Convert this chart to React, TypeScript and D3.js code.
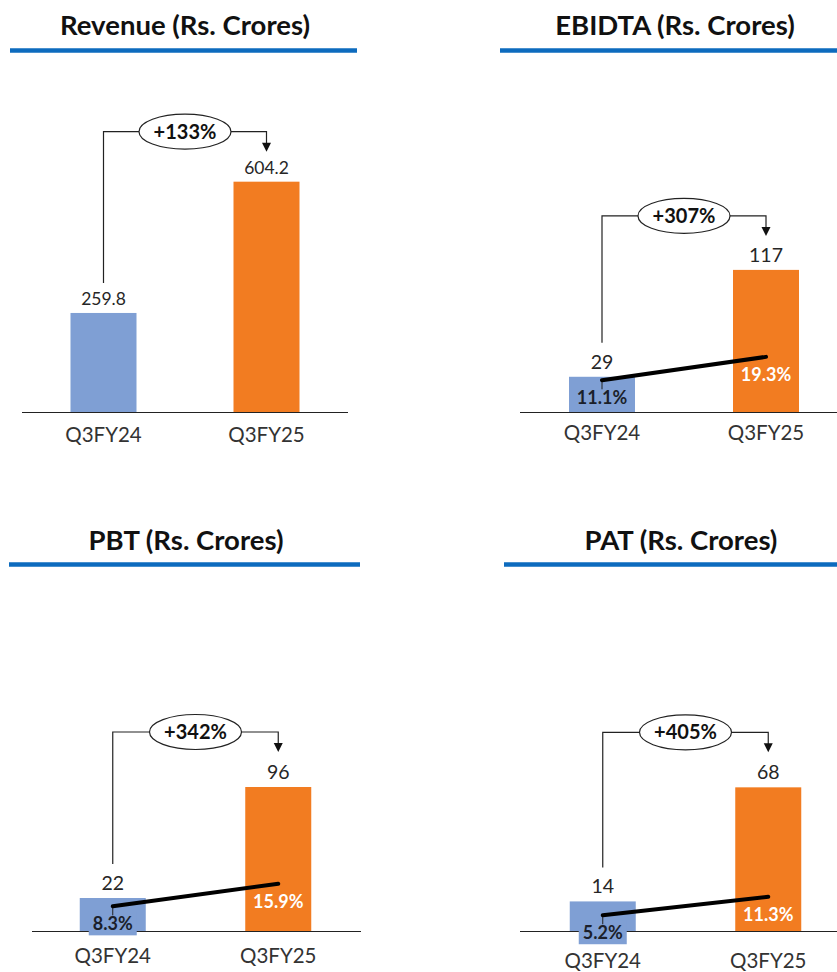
import React from "react";
import * as d3 from "d3";

// ---------- data ----------
const categories = ["Q3FY24", "Q3FY25"];
const panelTitles = ["Revenue (Rs. Crores)", "EBIDTA (Rs. Crores)", "PBT (Rs. Crores)", "PAT (Rs. Crores)"];
const revenueValues = [259.8, 604.2];
const ebidtaValues = [29, 117];
const pbtValues = [22, 96];
const patValues = [14, 68];
const ebidtaMargins = [11.1, 19.3];
const pbtMargins = [8.3, 15.9];
const patMargins = [5.2, 11.3];
const growthLabels = ["+133%", "+307%", "+342%", "+405%"];
const valueFormats = [".1f", "d", "d", "d"];

// ---------- styles / layout ----------
const BAR_COLORS = ["#7F9FD4", "#F27C21"];
const RULE_COLOR = "#0D6BBE";
const FONT = "Lato, 'Open Sans', sans-serif";
const PLOT_H = 300;
const BAR_W = 66;

type Layout = {
  titleX: number; titleY: number; rule: [number, number]; ruleY: number;
  xRange: [number, number]; axis: [number, number]; baseline: number;
  yMax: number; mMax: number; catY: number; valSize: number;
  connTop: number; connBottom: number;
};

const layouts: Layout[] = [
  { titleX: 185, titleY: 35, rule: [10, 357], ruleY: 50.5, xRange: [22, 348], axis: [22, 348], baseline: 412, yMax: 787, mMax: 100, catY: 442, valSize: 17.5, connTop: 50, connBottom: 30 },
  { titleX: 675, titleY: 35, rule: [500, 840], ruleY: 50.5, xRange: [520, 848], axis: [520, 840], baseline: 412, yMax: 247, mMax: 105, catY: 440, valSize: 19.5, connTop: 54, connBottom: 34 },
  { titleX: 186, titleY: 550, rule: [9, 360], ruleY: 564.5, xRange: [30, 361], axis: [32, 361], baseline: 931, yMax: 200, mMax: 101, catY: 963, valSize: 19.5, connTop: 55, connBottom: 34 },
  { titleX: 681, titleY: 550, rule: [504, 840], ruleY: 564.5, xRange: [520, 851], axis: [520, 840], baseline: 931, yMax: 142, mMax: 99, catY: 968, valSize: 19.5, connTop: 55, connBottom: 34 },
];

const seriesValues = [revenueValues, ebidtaValues, pbtValues, patValues];
const seriesMargins: (number[] | null)[] = [null, ebidtaMargins, pbtMargins, patMargins];

function Panel({ idx }: { idx: number }) {
  const L = layouts[idx];
  const values = seriesValues[idx];
  const margins = seriesMargins[idx];
  const x = d3.scalePoint<string>().domain(categories).range(L.xRange).padding(0.5);
  const y = d3.scaleLinear().domain([0, L.yMax]).range([L.baseline, L.baseline - PLOT_H]);
  const ym = d3.scaleLinear().domain([0, L.mMax]).range([L.baseline, L.baseline - PLOT_H]);
  const fmt = d3.format(valueFormats[idx]);

  const x0 = x(categories[0])!;
  const x1 = x(categories[1])!;
  const connY = y(values[1]) - L.connTop;
  const leftBottom = y(values[0]) - L.connBottom;
  const tipY = connY + 20;
  const midX = (x0 + x1) / 2;
  const rx = 46;
  const ry = 17.5;

  const marginLine = margins
    ? d3.line<number>().x((_, i) => x(categories[i])!).y((d) => ym(d))(margins)
    : null;

  return (
    <g>
      <text x={L.titleX} y={L.titleY} textAnchor="middle" fontFamily={FONT} fontWeight={700} fontSize={27.5} fill="#111">
        {panelTitles[idx]}
      </text>
      <line x1={L.rule[0]} x2={L.rule[1]} y1={L.ruleY} y2={L.ruleY} stroke={RULE_COLOR} strokeWidth={4.5} />

      {values.map((v, i) => (
        <rect key={i} x={x(categories[i])! - BAR_W / 2} y={y(v)} width={BAR_W} height={L.baseline - y(v)} fill={BAR_COLORS[i]} />
      ))}
      <line x1={L.axis[0]} x2={L.axis[1]} y1={L.baseline + 0.5} y2={L.baseline + 0.5} stroke="#222" strokeWidth={1.2} />

      {values.map((v, i) => (
        <text key={i} x={x(categories[i])!} y={y(v) - 8} textAnchor="middle" fontFamily={FONT} fontSize={L.valSize} fill="#262626">
          {fmt(v)}
        </text>
      ))}

      {categories.map((c) => (
        <text key={c} x={x(c)!} y={L.catY} textAnchor="middle" fontFamily={FONT} fontSize={20.5} fill="#333">
          {c}
        </text>
      ))}

      {/* growth connector */}
      <path
        d={`M${x0},${leftBottom}V${connY}H${midX - rx}M${midX + rx},${connY}H${x1}V${tipY - 8}`}
        fill="none" stroke="#222" strokeWidth={1.2}
      />
      <path d={`M${x1 - 4.5},${tipY - 9}L${x1 + 4.5},${tipY - 9}L${x1},${tipY}Z`} fill="#111" />
      <ellipse cx={midX} cy={connY} rx={rx} ry={ry} fill="#fff" stroke="#222" strokeWidth={1.2} />
      <text x={midX} y={connY + 7} textAnchor="middle" fontFamily={FONT} fontWeight={700} fontSize={20} fill="#111">
        {growthLabels[idx]}
      </text>

      {margins && (
        <g>
          <rect x={x0 - 24} y={ym(margins[0]) + 24 - 19} width={48} height={24} fill={BAR_COLORS[0]} />
          <line x1={x0} x2={x0} y1={ym(margins[0]) + 1} y2={ym(margins[0]) + 9} stroke="#222" strokeWidth={1} />
          <path d={marginLine!} fill="none" stroke="#000" strokeWidth={4} strokeLinecap="round" />
          <text x={x0} y={ym(margins[0]) + 24} textAnchor="middle" fontFamily={FONT} fontWeight={700} fontSize={18} fill="#1b1f2b">
            {margins[0].toFixed(1) + "%"}
          </text>
          <text x={x1} y={ym(margins[1]) + 24} textAnchor="middle" fontFamily={FONT} fontWeight={700} fontSize={18} fill="#fff">
            {margins[1].toFixed(1) + "%"}
          </text>
        </g>
      )}
    </g>
  );
}

export default function App() {
  return (
    <svg width={837} height={972} style={{ position: "absolute", left: 0, top: 0, background: "#fff" }}>
      <rect width={837} height={972} fill="#fff" />
      {layouts.map((_, i) => (
        <Panel key={i} idx={i} />
      ))}
    </svg>
  );
}
